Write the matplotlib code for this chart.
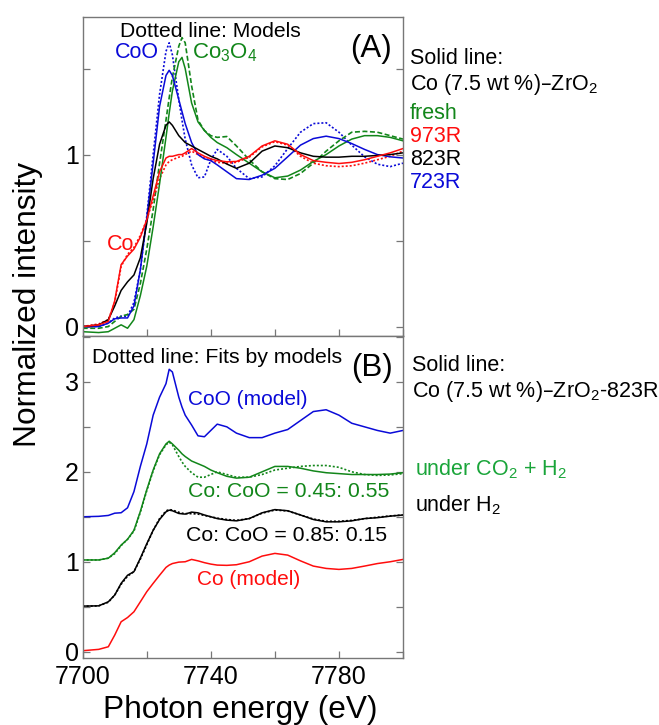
import matplotlib
matplotlib.use("Agg")
import matplotlib.pyplot as plt
from matplotlib.ticker import FixedLocator, MultipleLocator

plt.rcParams['font.family'] = ['Liberation Sans', 'DejaVu Sans']
plt.rcParams['mathtext.default'] = 'regular'

# photon energy grid (eV)
energy = [7700, 7705, 7708, 7710, 7712, 7714, 7716, 7718, 7720, 7722, 7724, 7726,
          7727, 7728, 7730, 7731, 7732, 7734, 7736, 7738, 7740, 7742, 7745, 7748,
          7752, 7756, 7760, 7764, 7768, 7772, 7776, 7780, 7784, 7788, 7792, 7796, 7800]

# (A) solid: Co (7.5 wt %)-ZrO2 samples
fresh = [-0.03, -0.035, -0.03, -0.01, 0.01, -0.01, 0.04, 0.18, 0.35, 0.58, 0.83, 1.10,
         1.24, 1.37, 1.54, 1.565, 1.50, 1.30, 1.19, 1.14, 1.10, 1.07, 1.04, 1.00,
         0.95, 0.90, 0.865, 0.875, 0.91, 0.96, 1.00, 1.05, 1.09, 1.11, 1.11, 1.10, 1.08]
r973 = [0.0, 0.01, 0.03, 0.15, 0.36, 0.41, 0.45, 0.52, 0.62, 0.76, 0.90, 0.98,
        0.99, 0.99, 1.0, 1.0, 1.01, 1.035, 1.01, 0.99, 0.975, 0.965, 0.958, 0.96,
        0.99, 1.05, 1.08, 1.06, 1.0, 0.965, 0.955, 0.948, 0.955, 0.97, 0.99, 1.01, 1.035]
r823 = [0.0, 0.01, 0.04, 0.12, 0.21, 0.26, 0.30, 0.40, 0.60, 0.86, 1.06, 1.17,
        1.19, 1.17, 1.11, 1.09, 1.07, 1.05, 1.03, 1.01, 0.99, 0.975, 0.945, 0.92,
        0.95, 1.02, 1.05, 1.04, 1.01, 0.99, 0.985, 0.985, 0.99, 0.99, 0.995, 1.0, 1.01]
r723 = [0.0, 0.0, 0.02, 0.045, 0.05, 0.05, 0.12, 0.33, 0.63, 0.95, 1.28, 1.46,
        1.49, 1.46, 1.32, 1.25, 1.18, 1.07, 1.0, 0.975, 0.965, 0.94, 0.90, 0.86,
        0.855, 0.88, 0.92, 0.987, 1.055, 1.093, 1.107, 1.093, 1.064, 1.03, 1.0, 0.987, 0.98]

# (A) dotted: reference models
co_model = [0.0, 0.015, 0.04, 0.14, 0.35, 0.42, 0.46, 0.53, 0.62, 0.74, 0.86, 0.94,
            0.96, 0.97, 0.985, 0.99, 1.0, 1.02, 1.0, 0.98, 0.965, 0.955, 0.95, 0.955,
            0.985, 1.045, 1.075, 1.055, 0.99, 0.95, 0.935, 0.93, 0.935, 0.95, 0.97, 0.99, 1.02]
coo_model = [0.0, 0.0, 0.02, 0.05, 0.06, 0.06, 0.14, 0.33, 0.64, 1.0, 1.35, 1.60,
             1.65, 1.58, 1.32, 1.20, 1.09, 0.94, 0.865, 0.87, 0.97, 1.03, 0.99, 0.92,
             0.86, 0.87, 0.935, 1.035, 1.13, 1.18, 1.185, 1.13, 1.055, 0.987, 0.944, 0.93, 0.95]
co3o4_model = [-0.01, -0.01, 0.0, 0.03, 0.06, 0.07, 0.10, 0.25, 0.45, 0.68, 0.95, 1.20,
               1.33, 1.45, 1.63, 1.68, 1.65, 1.40, 1.20, 1.14, 1.11, 1.10, 1.105, 1.05,
               0.97, 0.90, 0.86, 0.855, 0.89, 0.95, 1.02, 1.08, 1.13, 1.135, 1.13, 1.11, 1.09]

# (B) stacked spectra (offsets included)
b_coo = [1.5, 1.505, 1.515, 1.54, 1.545, 1.60, 1.78, 2.06, 2.31, 2.63, 2.83, 2.98,
         3.14, 3.11, 2.83, 2.72, 2.63, 2.52, 2.40, 2.39, 2.46, 2.53, 2.50, 2.43,
         2.38, 2.38, 2.43, 2.47, 2.57, 2.67, 2.69, 2.63, 2.54, 2.50, 2.46, 2.43, 2.46]
b_co2 = [1.02, 1.02, 1.04, 1.10, 1.185, 1.25, 1.35, 1.56, 1.80, 2.02, 2.20, 2.31,
         2.34, 2.31, 2.24, 2.20, 2.17, 2.12, 2.09, 2.06, 2.02, 1.99, 1.95, 1.93,
         1.94, 2.0, 2.06, 2.06, 2.04, 2.01, 1.99, 1.98, 1.97, 1.97, 1.97, 1.975, 1.99]
b_co2_fit = [1.02, 1.02, 1.04, 1.09, 1.18, 1.25, 1.34, 1.55, 1.79, 2.01, 2.19, 2.30,
             2.33, 2.30, 2.17, 2.11, 2.06, 1.99, 1.94, 1.94, 1.97, 2.0, 1.97, 1.94,
             1.94, 1.97, 2.02, 2.04, 2.06, 2.07, 2.07, 2.05, 2.0, 1.97, 1.96, 1.965, 1.98]
b_h2 = [0.507, 0.51, 0.555, 0.63, 0.76, 0.85, 0.89, 1.04, 1.20, 1.35, 1.47, 1.555,
        1.574, 1.567, 1.537, 1.533, 1.53, 1.552, 1.544, 1.52, 1.50, 1.48, 1.463, 1.455,
        1.48, 1.544, 1.58, 1.567, 1.52, 1.47, 1.444, 1.444, 1.455, 1.48, 1.49, 1.507, 1.52]
b_h2_fit = [0.505, 0.51, 0.55, 0.63, 0.75, 0.84, 0.89, 1.03, 1.19, 1.35, 1.48, 1.565,
            1.58, 1.575, 1.55, 1.54, 1.535, 1.535, 1.53, 1.515, 1.50, 1.485, 1.47, 1.46,
            1.48, 1.54, 1.575, 1.565, 1.52, 1.475, 1.45, 1.45, 1.46, 1.48, 1.495, 1.51, 1.52]
b_co = [0.011, 0.026, 0.055, 0.185, 0.333, 0.38, 0.444, 0.555, 0.667, 0.76, 0.85, 0.937,
        0.963, 0.98, 0.996, 0.998, 1.0, 1.026, 1.01, 0.99, 0.974, 0.963, 0.96, 0.967,
        1.0, 1.063, 1.093, 1.074, 1.01, 0.952, 0.926, 0.915, 0.926, 0.952, 0.98, 1.0, 1.026]

x_major = [7700, 7740, 7780]
x_minor = [7720, 7760, 7800]

BLUE = '#0a0ad8'
GREEN = '#12861a'
RED = '#ff0d0d'
LGREEN = '#1aa53a'
SPINE = '#777777'

W, H = 659, 725
fig = plt.figure(figsize=(W / 100, H / 100), dpi=100)
ax1 = fig.add_axes([82.7 / W, 1 - 336 / H, 320.3 / W, 319 / H])
ax2 = fig.add_axes([82.7 / W, 1 - 658 / H, 320.3 / W, 322 / H])

lw = 1.1
dot = (0, (1.2, 1.2))
ax1.plot(energy, coo_model, color=BLUE, lw=1.2, ls=dot)
ax1.plot(energy, co3o4_model, color=GREEN, lw=1.2, ls=(0, (3, 1.5)))
ax1.plot(energy, co_model, color=RED, lw=1.2, ls=dot)
ax1.plot(energy, fresh, color=GREEN, lw=lw)
ax1.plot(energy, r723, color=BLUE, lw=lw)
ax1.plot(energy, r823, color='black', lw=lw)
ax1.plot(energy, r973, color=RED, lw=lw)

ax2.plot(energy, b_coo, color=BLUE, lw=lw)
ax2.plot(energy, b_co2_fit, color=GREEN, lw=1.2, ls=dot)
ax2.plot(energy, b_co2, color=GREEN, lw=lw)
ax2.plot(energy, b_h2_fit, color='black', lw=1.2, ls=dot)
ax2.plot(energy, b_h2, color='black', lw=lw)
ax2.plot(energy, b_co, color=RED, lw=lw)

ax1.set_ylim(-0.055, 1.8)
ax2.set_ylim(-0.07, 3.51)
for ax in (ax1, ax2):
    ax.set_xlim(7700, 7800)
    ax.xaxis.set_major_locator(FixedLocator(x_major))
    ax.xaxis.set_minor_locator(FixedLocator(x_minor))
    ax.yaxis.set_major_locator(MultipleLocator(1))
    ax.yaxis.set_minor_locator(MultipleLocator(0.5))
    ax.tick_params(which='both', direction='in', length=5, width=0.9,
                   color=SPINE, left=True, right=True, top=False,
                   labelsize=18, pad=3)
    for s in ax.spines.values():
        s.set_color(SPINE)
        s.set_linewidth(1.0)
ax1.tick_params(labelbottom=False)
ax2.tick_params(axis='x', pad=5)

ax2.set_xlabel('Photon energy (eV)', fontsize=22.8)
ax2.xaxis.set_label_coords(0.491, -0.115)
fig.text(28 / W, 1 - 304 / H, 'Normalized intensity', fontsize=22.8,
         rotation=90, ha='center', va='center')


def label(x, y, s, color='black', size=15.5, ha='left'):
    fig.text(x / W, 1 - y / H, s, color=color, fontsize=size, ha=ha, va='baseline')


# panel (A) annotations
label(120, 36.7, 'Dotted line: Models', size=15.2)
label(115, 58.3, 'CoO', BLUE, 15.5)
label(192, 58.3, 'Co$_3$O$_4$', GREEN, 16)
label(107, 250, 'Co', RED, 15.5)
label(392, 56.7, '(A)', size=22.5, ha='right')
label(410, 64.3, 'Solid line:')
label(410, 90, 'Co (7.5 wt %)–ZrO$_2$')
label(410, 119.3, 'fresh', GREEN)
label(410, 141.7, '973R', RED)
label(410, 165, '823R')
label(410, 188.3, '723R', BLUE)

# panel (B) annotations
label(92.3, 362.7, 'Dotted line: Fits by models', size=15.3)
label(392.7, 376, '(B)', size=22.5, ha='right')
label(188.3, 405, 'CoO (model)', BLUE, 15)
label(188.3, 496.7, 'Co: CoO = 0.45: 0.55', GREEN, 15.3)
label(186, 540.7, 'Co: CoO = 0.85: 0.15', size=15.3)
label(196.7, 585, 'Co (model)', RED, 15)
label(411.7, 370.7, 'Solid line:')
label(411.7, 396.7, 'Co (7.5 wt %)–ZrO$_2$-823R')
label(415, 475, 'under CO$_2$ + H$_2$', LGREEN)
label(415, 511.7, 'under H$_2$')

fig.savefig('out.png', dpi=100)
